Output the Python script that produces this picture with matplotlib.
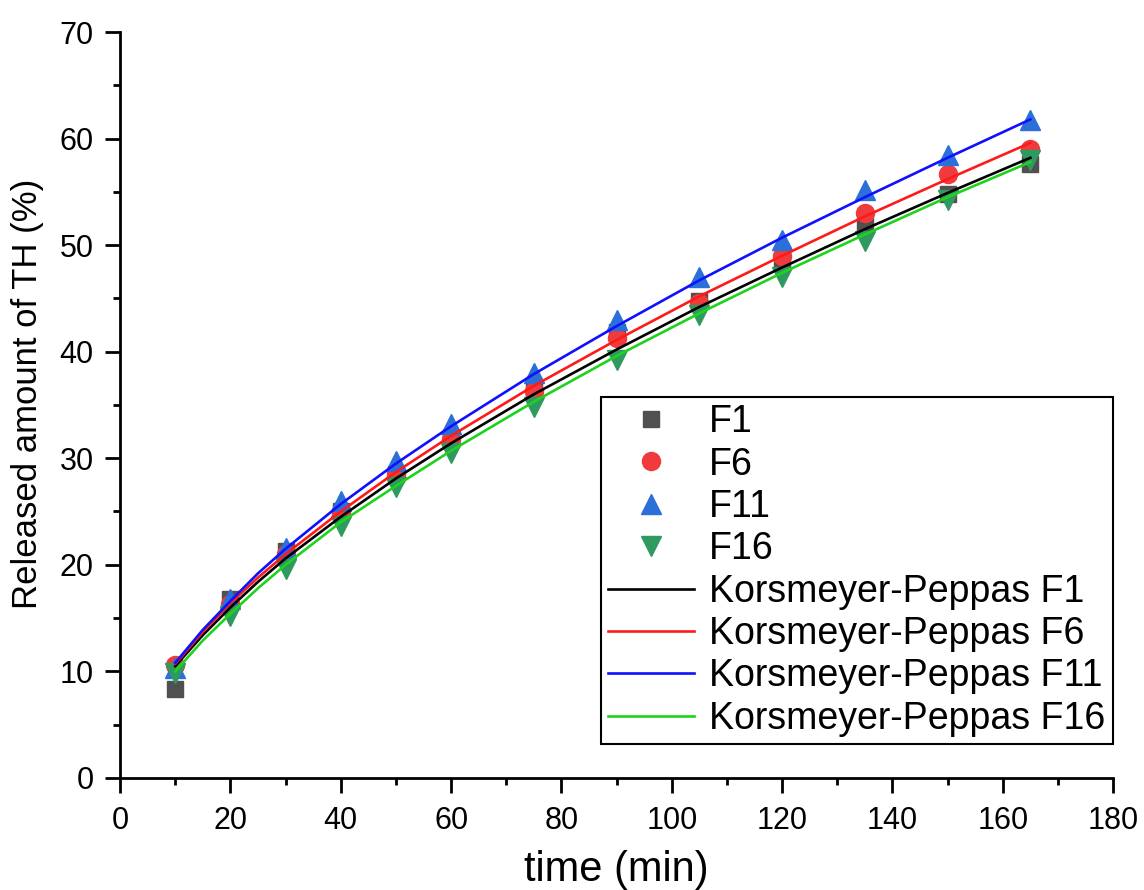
import matplotlib
matplotlib.use('Agg')
import matplotlib.pyplot as plt
from matplotlib.ticker import MultipleLocator

plt.rcParams['font.family'] = ['Liberation Sans', 'DejaVu Sans']

# measured release data
t = [10, 20, 30, 40, 50, 60, 75, 90, 105, 120, 135, 150, 165]
f1 = [8.3, 16.8, 21.3, 25.0, 28.5, 31.8, 36.5, 41.8, 44.8, 48.3, 51.8, 54.8, 57.6]
f6 = [10.6, 16.3, 21.0, 24.8, 28.5, 31.8, 36.3, 41.3, 44.6, 49.0, 53.0, 56.7, 59.0]
f11 = [10.3, 16.8, 21.6, 26.0, 29.7, 33.2, 38.0, 43.0, 47.0, 50.5, 55.2, 58.5, 61.7]
f16 = [9.8, 15.2, 19.6, 23.6, 27.3, 30.5, 34.8, 39.2, 43.4, 47.0, 50.4, 54.2, 58.0]

# fitted Korsmeyer-Peppas curves
t_fit = [10, 15, 20, 25, 30, 40, 50, 60, 75, 90, 105, 120, 135, 150, 165]
kp_f1 = [10.5, 13.4, 16.0, 18.4, 20.6, 24.5, 28.1, 31.4, 36.0, 40.2, 44.2, 47.9, 51.5, 54.9, 58.2]
kp_f6 = [10.7, 13.7, 16.4, 18.8, 21.0, 25.0, 28.7, 32.1, 36.8, 41.1, 45.2, 49.0, 52.7, 56.2, 59.6]
kp_f11 = [10.8, 13.9, 16.6, 19.2, 21.5, 25.7, 29.5, 33.0, 37.9, 42.4, 46.7, 50.7, 54.5, 58.2, 61.8]
kp_f16 = [10.0, 12.9, 15.4, 17.8, 20.0, 24.0, 27.4, 30.7, 35.3, 39.6, 43.6, 47.4, 51.0, 54.5, 57.8]

fig = plt.figure(figsize=(11.44, 8.9), dpi=100)
ax = fig.add_axes([0.105, 0.126, 0.868, 0.838])

ax.plot(t, f1, 's', color='#505050', ms=11, ls='none', label='F1', zorder=2)
ax.plot(t, f6, 'o', color='#ef3b3b', ms=13, ls='none', label='F6', zorder=2)
ax.plot(t, f11, '^', color='#2b6fd9', ms=14, ls='none', label='F11', zorder=2)
ax.plot(t, f16, 'v', color='#2f9a60', ms=14, ls='none', label='F16', zorder=2)

lw = 1.9
ax.plot(t_fit, kp_f1, color='black', lw=lw, label='Korsmeyer-Peppas F1', zorder=3)
ax.plot(t_fit, kp_f6, color='#ff1a1a', lw=lw, label='Korsmeyer-Peppas F6', zorder=3)
ax.plot(t_fit, kp_f11, color='#1010ff', lw=lw, label='Korsmeyer-Peppas F11', zorder=3)
ax.plot(t_fit, kp_f16, color='#1ed21e', lw=lw, label='Korsmeyer-Peppas F16', zorder=3)

ax.set_xlim(0, 180)
ax.set_ylim(0, 70)
ax.xaxis.set_major_locator(MultipleLocator(20))
ax.xaxis.set_minor_locator(MultipleLocator(10))
ax.yaxis.set_major_locator(MultipleLocator(10))
ax.yaxis.set_minor_locator(MultipleLocator(5))

for side in ['top', 'right']:
    ax.spines[side].set_visible(False)
for side in ['left', 'bottom']:
    ax.spines[side].set_linewidth(2.0)

ax.tick_params(which='major', direction='out', length=11, width=2.0, labelsize=22)
ax.tick_params(which='minor', direction='out', length=5, width=2.0)
ax.tick_params(axis='x', which='major', pad=9)
ax.tick_params(axis='y', which='major', pad=8)

ax.set_xlabel('time (min)', fontsize=30, labelpad=10)
ax.set_ylabel('Released amount of TH (%)', fontsize=25)
ax.yaxis.set_label_coords(-0.077, 0.515)

leg = ax.legend(loc='upper right', bbox_to_anchor=(1.0, 0.511), borderaxespad=0,
                fontsize=27, frameon=True, fancybox=False, framealpha=1,
                edgecolor='black', labelspacing=0.17, handlelength=2.3,
                handletextpad=0.4, borderpad=0.2, markerscale=1.0)
leg.get_frame().set_linewidth(1.5)

fig.savefig('out.png', dpi=100)
